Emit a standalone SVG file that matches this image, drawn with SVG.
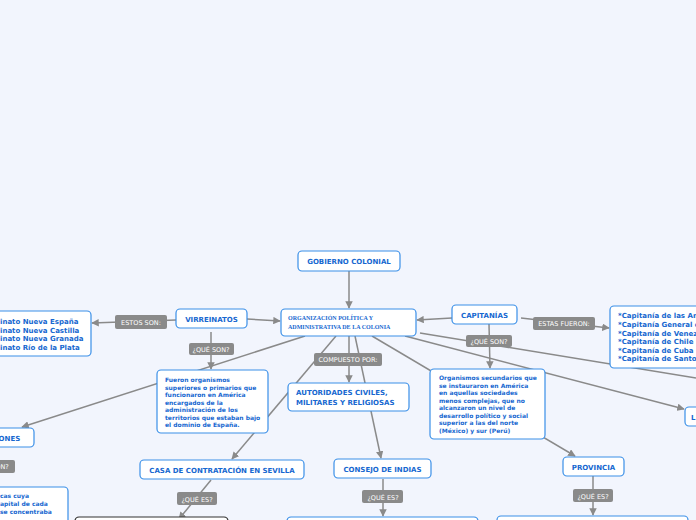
<svg xmlns="http://www.w3.org/2000/svg" width="696" height="520" viewBox="0 0 696 520">
<style>
.n{fill:#fff;stroke:#3a8fe8;stroke-width:1.2}
.t{font-family:"DejaVu Sans",sans-serif;font-weight:bold;font-size:7px;fill:#1667d0}
.s{font-family:"DejaVu Sans",sans-serif;font-weight:bold;font-size:6px;fill:#1667d0}
.r{font-family:"Liberation Serif",serif;font-weight:bold;font-size:6px;fill:#1667d0}
.c line{stroke:#8a8a8a;stroke-width:1.5}
.lb rect{fill:#8a8a8a}
.lb text{font-family:"DejaVu Sans",sans-serif;font-size:6.5px;fill:#fff;text-anchor:middle}
</style>
<defs><marker id="a" viewBox="0 0 10 10" refX="9" refY="5" markerWidth="5" markerHeight="5" orient="auto"><path d="M0,0L10,5L0,10z" fill="#8a8a8a"/></marker></defs>
<rect width="696" height="520" fill="#f2f5fd"/>
<g class="c">
<line x1="349" y1="271" x2="349" y2="308" marker-end="url(#a)"/>
<line x1="247" y1="319" x2="280" y2="321" marker-end="url(#a)"/>
<line x1="176" y1="320" x2="92" y2="323" marker-end="url(#a)"/>
<line x1="211" y1="332" x2="211" y2="369" marker-end="url(#a)"/>
<line x1="452" y1="318" x2="417" y2="320" marker-end="url(#a)"/>
<line x1="521" y1="318" x2="609" y2="328" marker-end="url(#a)"/>
<line x1="489" y1="324" x2="490" y2="368" marker-end="url(#a)"/>
<line x1="349" y1="336" x2="349" y2="382" marker-end="url(#a)"/>
<line x1="355" y1="336" x2="381" y2="458" marker-end="url(#a)"/>
<line x1="336" y1="336" x2="232" y2="459" marker-end="url(#a)"/>
<line x1="305" y1="336" x2="22" y2="427" marker-end="url(#a)"/>
<line x1="372" y1="336" x2="575" y2="456" marker-end="url(#a)"/>
<line x1="405" y1="336" x2="684" y2="409" marker-end="url(#a)"/>
<line x1="420" y1="333" x2="696" y2="378"/>
<line x1="593" y1="476" x2="593" y2="515" marker-end="url(#a)"/>
<line x1="383" y1="479" x2="383" y2="516" marker-end="url(#a)"/>
<line x1="211" y1="480" x2="179" y2="519" marker-end="url(#a)"/>
</g>
<g class="lb">
<rect x="115" y="315" width="52" height="14" rx="2"/><text x="141" y="325">ESTOS SON:</text>
<rect x="189" y="343" width="45" height="12" rx="2"/><text x="211" y="352">¿QUÉ SON?</text>
<rect x="533" y="317" width="62" height="13" rx="2"/><text x="564" y="326">ESTAS FUERON:</text>
<rect x="466" y="335" width="46" height="12" rx="2"/><text x="489" y="344">¿QUÉ SON?</text>
<rect x="314" y="353" width="68" height="13" rx="2"/><text x="348" y="362">COMPUESTO POR:</text>
<rect x="362" y="490" width="41" height="13" rx="2"/><text x="383" y="500">¿QUÉ ES?</text>
<rect x="573" y="489" width="40" height="13" rx="2"/><text x="593" y="499">¿QUÉ ES?</text>
<rect x="177" y="492" width="40" height="13" rx="2"/><text x="197" y="502">¿QUÉ ES?</text>
<rect x="-10" y="460" width="25" height="13" rx="2"/><text x="2" y="469">ON?</text>
</g>
<g id="gobierno"><rect class="n" x="298" y="251" width="102" height="20" rx="4"/><text class="t" x="349" y="264" text-anchor="middle">GOBIERNO COLONIAL</text></g>
<g id="org"><rect class="n" x="281" y="309" width="135" height="27" rx="4"/><text class="r" x="288" y="320">ORGANIZACIÓN POLÍTICA Y</text><text class="r" x="288" y="329">ADMINISTRATIVA DE LA COLONIA</text></g>
<g id="virreinatos"><rect class="n" x="176" y="309" width="71" height="19" rx="4"/><text class="t" x="211.5" y="322" text-anchor="middle">VIRREINATOS</text></g>
<g id="vlist"><rect class="n" x="-20" y="311" width="111" height="45" rx="4"/><text class="t" x="0" y="324">inato Nueva España</text><text class="t" x="0" y="333">inato Nueva Castilla</text><text class="t" x="0" y="341">inato Nueva Granada</text><text class="t" x="0" y="350">inato Río de la Plata</text></g>
<g id="fueron"><rect class="n" x="157" y="370" width="111" height="63" rx="4"/>
<text class="s" x="165" y="382">Fueron organismos</text><text class="s" x="165" y="389.5">superiores o primarios que</text><text class="s" x="165" y="397">funcionaron en América</text><text class="s" x="165" y="404.5">encargados de la</text><text class="s" x="165" y="412">administración de los</text><text class="s" x="165" y="419.5">territorios que estaban bajo</text><text class="s" x="165" y="427">el dominio de España.</text></g>
<g id="capitanias"><rect class="n" x="452" y="305" width="65" height="19" rx="4"/><text class="t" x="484.5" y="318" text-anchor="middle">CAPITANÍAS</text></g>
<g id="clist"><rect class="n" x="610" y="306" width="110" height="62" rx="4"/>
<text class="t" x="618" y="318">*Capitanía de las Américas</text><text class="t" x="618" y="327">*Capitanía General de</text><text class="t" x="618" y="335.5">*Capitanía de Venezuela</text><text class="t" x="618" y="344">*Capitanía de Chile</text><text class="t" x="618" y="353">*Capitanía de Cuba</text><text class="t" x="618" y="361">*Capitanía de Santo</text></g>
<g id="organismos"><rect class="n" x="430" y="369" width="115" height="70" rx="4"/>
<text class="s" x="439" y="380">Organismos secundarios que</text><text class="s" x="439" y="387.5">se instauraron en América</text><text class="s" x="439" y="395">en aquellas sociedades</text><text class="s" x="439" y="402.5">menos complejas, que no</text><text class="s" x="439" y="410">alcanzaron un nivel de</text><text class="s" x="439" y="417.5">desarrollo político y social</text><text class="s" x="439" y="425">superior a las del norte</text><text class="s" x="439" y="432.5">(México) y sur (Perú)</text></g>
<g id="autoridades"><rect class="n" x="288" y="383" width="121" height="28" rx="4"/><text class="t" x="296" y="395">AUTORIDADES CIVILES,</text><text class="t" x="296" y="405">MILITARES Y RELIGIOSAS</text></g>
<g id="consejo"><rect class="n" x="334" y="459" width="97" height="19" rx="4"/><text class="t" x="382.5" y="471.5" text-anchor="middle">CONSEJO DE INDIAS</text></g>
<g id="casa"><rect class="n" x="140" y="460" width="164" height="19" rx="4"/><text class="t" x="222" y="472.5" text-anchor="middle">CASA DE CONTRATACIÓN EN SEVILLA</text></g>
<g id="provincia"><rect class="n" x="563" y="457" width="61" height="19" rx="4"/><text class="t" x="593.5" y="470" text-anchor="middle">PROVINCIA</text></g>
<g id="audiencias"><rect class="n" x="-20" y="428" width="54" height="19" rx="4"/><text class="t" x="-4" y="441">IONES</text></g>
<g id="lbox"><rect class="n" x="685" y="407" width="30" height="19" rx="4"/><text class="t" x="691" y="420">L</text></g>
<g id="audtext"><rect class="n" x="-20" y="487" width="88" height="45" rx="4"/><text class="s" x="0" y="498">cas cuya</text><text class="s" x="0" y="506">apital de cada</text><text class="s" x="0" y="514">se concentraba</text></g>
<g id="bottoms">
<rect x="75" y="517" width="153" height="10" rx="4" fill="#fff" stroke="#333" stroke-width="1.2"/>
<rect class="n" x="287" y="517" width="191" height="10" rx="4"/>
<rect class="n" x="497" y="516" width="191" height="10" rx="4"/>
</g>
</svg>
